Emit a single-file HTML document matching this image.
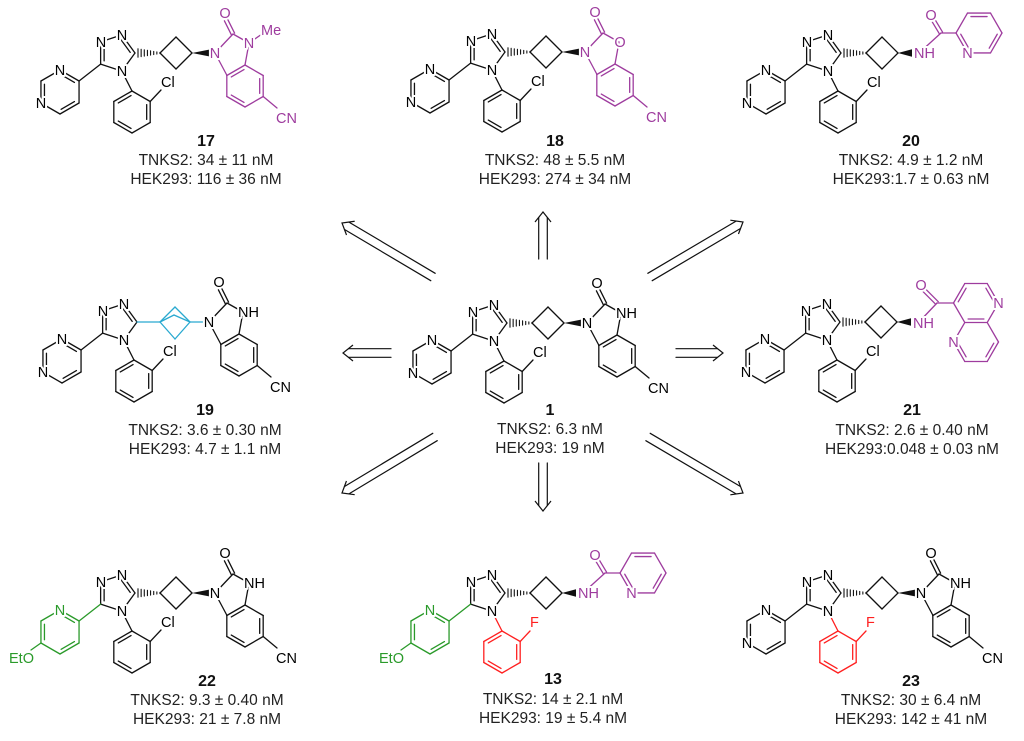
<!DOCTYPE html>
<html><head><meta charset="utf-8">
<style>
html,body{margin:0;padding:0;background:#fff;}
svg{display:block;}
.a{font-family:"Liberation Sans",sans-serif;font-size:14.5px;text-anchor:middle;stroke:#fff;stroke-width:4px;paint-order:stroke;stroke-linejoin:round;fill:#000;}
.s{text-anchor:start;}
.e{text-anchor:end;}
.p{fill:#9e3c9e;}
.g{fill:#2a9a2a;}
.r{fill:#ff2020;}
.t{font-family:"Liberation Sans",sans-serif;font-size:15.5px;text-anchor:middle;fill:#222;}
.n{font-family:"Liberation Sans",sans-serif;font-size:16px;font-weight:bold;text-anchor:middle;fill:#111;}
</style></head>
<body>
<svg id="sv" width="1024" height="741" viewBox="0 0 1024 741" xmlns="http://www.w3.org/2000/svg">
<rect width="1024" height="741" fill="#fff"/>
<g id="arrows"></g>

<!-- 17 -->
<g id="m17" transform="translate(135,53)"><g class="b"></g>
<text class="a" x="-13" y="-13">N</text><text class="a" x="-34" y="-6">N</text><text class="a" x="-13" y="23">N</text>
<text class="a" x="-75" y="22">N</text><text class="a" x="-94" y="55">N</text>
<text class="a s" x="26" y="34">Cl</text>
<g transform="translate(80,0)"><text class="a p" x="0" y="5">N</text><text class="a p" x="10" y="-35">O</text><text class="a p" x="34" y="-5">N</text><text class="a s p" x="46" y="-18">Me</text><text class="a s p" x="61" y="70">CN</text></g>
</g>
<text class="n" x="206" y="146">17</text>
<text class="t" x="206" y="165">TNKS2: 34 ± 11  nM</text>
<text class="t" x="206" y="184">HEK293: 116 ± 36 nM</text>

<!-- 18 -->
<g id="m18" transform="translate(505,52)"><g class="b"></g>
<text class="a" x="-13" y="-13">N</text><text class="a" x="-34" y="-6">N</text><text class="a" x="-13" y="23">N</text>
<text class="a" x="-75" y="22">N</text><text class="a" x="-94" y="55">N</text>
<text class="a s" x="26" y="34">Cl</text>
<g transform="translate(80,0)"><text class="a p" x="0" y="5">N</text><text class="a p" x="10" y="-35">O</text><text class="a p" x="35" y="-5">O</text><text class="a s p" x="61" y="70">CN</text></g>
</g>
<text class="n" x="555" y="146">18</text>
<text class="t" x="555" y="165">TNKS2: 48 ± 5.5 nM</text>
<text class="t" x="555" y="184">HEK293: 274 ± 34 nM</text>

<!-- 20 -->
<g id="m20" transform="translate(841,53)"><g class="b"></g>
<text class="a" x="-13" y="-13">N</text><text class="a" x="-34" y="-6">N</text><text class="a" x="-13" y="23">N</text>
<text class="a" x="-75" y="22">N</text><text class="a" x="-94" y="55">N</text>
<text class="a s" x="26" y="34">Cl</text>
<text class="a s p" x="73" y="5">NH</text><text class="a p" x="90" y="-33">O</text><text class="a p" x="126.5" y="5">N</text>
</g>
<text class="n" x="911" y="146">20</text>
<text class="t" x="911" y="165">TNKS2: 4.9 ± 1.2 nM</text>
<text class="t" x="911" y="184">HEK293:1.7 ± 0.63 nM</text>

<!-- 19 -->
<g id="m19" transform="translate(137,322)"><g class="b"></g>
<text class="a" x="-13" y="-13">N</text><text class="a" x="-34" y="-6">N</text><text class="a" x="-13" y="23">N</text>
<text class="a" x="-75" y="22">N</text><text class="a" x="-94" y="55">N</text>
<text class="a s" x="26" y="34">Cl</text>
<g transform="translate(72,0)"><text class="a" x="0" y="5">N</text><text class="a" x="10" y="-35">O</text><text class="a s" x="29" y="-5">NH</text><text class="a s" x="61" y="70">CN</text></g>
</g>
<text class="n" x="205" y="415">19</text>
<text class="t" x="205" y="435">TNKS2: 3.6 ± 0.30 nM</text>
<text class="t" x="205" y="454">HEK293: 4.7 ± 1.1 nM</text>

<!-- 1 -->
<g id="m1" transform="translate(507,323)"><g class="b"></g>
<text class="a" x="-13" y="-13">N</text><text class="a" x="-34" y="-6">N</text><text class="a" x="-13" y="23">N</text>
<text class="a" x="-75" y="22">N</text><text class="a" x="-94" y="55">N</text>
<text class="a s" x="26" y="34">Cl</text>
<g transform="translate(80,0)"><text class="a" x="0" y="5">N</text><text class="a" x="10" y="-35">O</text><text class="a s" x="29" y="-5">NH</text><text class="a s" x="61" y="70">CN</text></g>
</g>
<text class="n" x="550" y="415">1</text>
<text class="t" x="550" y="434">TNKS2: 6.3 nM</text>
<text class="t" x="550" y="453">HEK293: 19 nM</text>

<!-- 21 -->
<g id="m21" transform="translate(840,322)"><g class="b"></g>
<text class="a" x="-13" y="-13">N</text><text class="a" x="-34" y="-6">N</text><text class="a" x="-13" y="23">N</text>
<text class="a" x="-75" y="22">N</text><text class="a" x="-94" y="55">N</text>
<text class="a s" x="26" y="34">Cl</text>
<text class="a s p" x="73" y="6">NH</text><text class="a p" x="81" y="-32">O</text><text class="a p" x="158.5" y="-14">N</text><text class="a p" x="113.5" y="25">N</text>
</g>
<text class="n" x="912" y="415">21</text>
<text class="t" x="912" y="435">TNKS2: 2.6 ± 0.40 nM</text>
<text class="t" x="912" y="454">HEK293:0.048 ± 0.03 nM</text>

<!-- 22 -->
<g id="m22" transform="translate(135,593)"><g class="b"></g>
<text class="a" x="-13" y="-13">N</text><text class="a" x="-34" y="-6">N</text><text class="a" x="-13" y="23">N</text>
<text class="a g" x="-75" y="22">N</text><text class="a e g" x="-101" y="70">EtO</text>
<text class="a s" x="26" y="34">Cl</text>
<g transform="translate(80,0)"><text class="a" x="0" y="5">N</text><text class="a" x="10" y="-35">O</text><text class="a s" x="29" y="-5">NH</text><text class="a s" x="61" y="70">CN</text></g>
</g>
<text class="n" x="207" y="686">22</text>
<text class="t" x="207" y="705">TNKS2: 9.3 ± 0.40 nM</text>
<text class="t" x="207" y="724">HEK293: 21 ± 7.8 nM</text>

<!-- 13 -->
<g id="m13" transform="translate(505,593)"><g class="b"></g>
<text class="a" x="-13" y="-13">N</text><text class="a" x="-34" y="-6">N</text><text class="a" x="-13" y="23">N</text>
<text class="a g" x="-75" y="22">N</text><text class="a e g" x="-101" y="70">EtO</text>
<text class="a s r" x="25" y="34">F</text>
<text class="a s p" x="73" y="5">NH</text><text class="a p" x="90" y="-33">O</text><text class="a p" x="126.5" y="5">N</text>
</g>
<text class="n" x="553" y="684">13</text>
<text class="t" x="553" y="704">TNKS2: 14 ± 2.1 nM</text>
<text class="t" x="553" y="723">HEK293: 19 ± 5.4 nM</text>

<!-- 23 -->
<g id="m23" transform="translate(841,593)"><g class="b"></g>
<text class="a" x="-13" y="-13">N</text><text class="a" x="-34" y="-6">N</text><text class="a" x="-13" y="23">N</text>
<text class="a" x="-75" y="22">N</text><text class="a" x="-94" y="55">N</text>
<text class="a s r" x="25" y="34">F</text>
<g transform="translate(80,0)"><text class="a" x="0" y="5">N</text><text class="a" x="10" y="-35">O</text><text class="a s" x="29" y="-5">NH</text><text class="a s" x="61" y="70">CN</text></g>
</g>
<text class="n" x="911" y="686">23</text>
<text class="t" x="911" y="705">TNKS2: 30 ± 6.4 nM</text>
<text class="t" x="911" y="724">HEK293: 142 ± 41 nM</text>
</svg>
<script>
(function(){
var NS='http://www.w3.org/2000/svg';
var K='#111',P='#9e3c9e',G='#2a9a2a',R='#ff2020',C='#29a9d0';
var W=1.3;
function ln(g,a,b,c,w){var e=document.createElementNS(NS,'line');e.setAttribute('x1',a[0]);e.setAttribute('y1',a[1]);e.setAttribute('x2',b[0]);e.setAttribute('y2',b[1]);e.setAttribute('stroke',c||K);e.setAttribute('stroke-width',w||W);e.setAttribute('stroke-linecap','round');g.appendChild(e);}
function pg(g,pts,c){var e=document.createElementNS(NS,'polygon');e.setAttribute('points',pts.map(function(p){return p[0]+','+p[1];}).join(' '));e.setAttribute('fill',c||K);g.appendChild(e);}
function pl(g,pts,c,w){var e=document.createElementNS(NS,'polyline');e.setAttribute('points',pts.map(function(p){return p[0]+','+p[1];}).join(' '));e.setAttribute('fill','none');e.setAttribute('stroke',c||K);e.setAttribute('stroke-width',w||W);g.appendChild(e);}
function hv(cx,cy,r,a){a=a*Math.PI/180;return [cx+r*Math.cos(a),cy+r*Math.sin(a)];}
function dbl(g,a,b,ctr,c){ln(g,a,b,c);var dx=b[0]-a[0],dy=b[1]-a[1],L=Math.hypot(dx,dy);var nx=-dy/L,ny=dx/L;var mx=(a[0]+b[0])/2,my=(a[1]+b[1])/2;if(nx*(ctr[0]-mx)+ny*(ctr[1]-my)<0){nx=-nx;ny=-ny;}var o=3.5;ln(g,[a[0]+dx*0.15+nx*o,a[1]+dy*0.15+ny*o],[b[0]-dx*0.15+nx*o,b[1]-dy*0.15+ny*o],c);}
function par(g,a,b,c){var dx=b[0]-a[0],dy=b[1]-a[1],L=Math.hypot(dx,dy);var nx=-dy/L*1.8,ny=dx/L*1.8;ln(g,[a[0]+nx,a[1]+ny],[b[0]+nx,b[1]+ny],c);ln(g,[a[0]-nx,a[1]-ny],[b[0]-nx,b[1]-ny],c);}
function hash(g,n,w,c){var dx=w[0]-n[0],dy=w[1]-n[1],L=Math.hypot(dx,dy);var ux=-dy/L,uy=dx/L;for(var i=0;i<=7;i++){var t=i/7;var x=n[0]+dx*t,y=n[1]+dy*t,h=0.6+3.6*t;ln(g,[x+ux*h,y+uy*h],[x-ux*h,y-uy*h],c,1.1);}}
function wedge(g,n,w,c){var dx=w[0]-n[0],dy=w[1]-n[1],L=Math.hypot(dx,dy);var ux=-dy/L*3.8,uy=dx/L*3.8;pg(g,[n,[w[0]+ux,w[1]+uy],[w[0]-ux,w[1]-uy]],c);}
function off(p,o){return [p[0]+o,p[1]];}

function core(g,o){
  var tc=[-19,0];var T=[0,-72,-144,144,72].map(function(a){return hv(-19,0,19,a);});
  dbl(g,T[0],T[1],tc);ln(g,T[1],T[2]);dbl(g,T[2],T[3],tc);ln(g,T[3],T[4]);ln(g,T[4],T[0]);
  var pc=[-75,39];var Pp=[-30,-90,-150,150,90,30].map(function(a){return hv(pc[0],pc[1],22,a);});
  var pcol=o.eto?G:K;
  ln(g,T[3],Pp[0],pcol);
  for(var i=0;i<6;i++){var a=Pp[i],b=Pp[(i+1)%6];if(i==0||i==2||i==4)dbl(g,a,b,pc,pcol);else ln(g,a,b,pcol);}
  if(o.eto)ln(g,Pp[3],[-104,57],G);
  var ac=[-3,59];var A=[-90,-30,30,90,150,210].map(function(a){return hv(ac[0],ac[1],21,a);});
  var acol=o.F?R:K;
  ln(g,T[4],A[0],acol);
  for(var j=0;j<6;j++){var a2=A[j],b2=A[(j+1)%6];if(j==1||j==3||j==5)dbl(g,a2,b2,ac,acol);else ln(g,a2,b2,acol);}
  ln(g,A[1],o.F?[25,38]:[26,37],acol);
}
function cb(g,end){
  hash(g,[25,0],[3,0]);
  var Lp=[25,0],Tp=[41,-16],Rp=[57,0],Bp=[41,16];
  ln(g,Lp,Tp);ln(g,Tp,Rp);ln(g,Rp,Bp);ln(g,Bp,Lp);
  wedge(g,Rp,[end,0]);
}
function bcp(g){
  ln(g,[0,0],[23,0],C);
  var Lp=[23,0],Tp=[38,-15],Rp=[53,0],Bp=[38,17],Mp=[37,-7];
  ln(g,Lp,Tp,C);ln(g,Tp,Rp,C);ln(g,Rp,Bp,C);ln(g,Bp,Lp,C);ln(g,Lp,Mp,C);ln(g,Mp,Rp,C);
  ln(g,Rp,[69,0],C);
}
function bim(g,ox,c,me){
  function q(p){return off(p,ox);}
  var N1=q([0,0]),C2=q([18,-19]),N3=q([34,-10]),C3a=q([30,12]),C7a=q([12,22.5]);
  ln(g,N1,C2,c);ln(g,C2,N3,c);ln(g,N3,C3a,c);ln(g,C7a,N1,c);
  par(g,C2,q([11,-33]),c);
  var bc=q([30,33]);var B=[-90,-30,30,90,150,210].map(function(a){return hv(bc[0],bc[1],21,a);});
  for(var i=0;i<6;i++){var a=B[i],b=B[(i+1)%6];if(i==1||i==3||i==5)dbl(g,a,b,bc,c);else ln(g,a,b,c);}
  ln(g,B[2],q([62,55]),c);
  if(me)ln(g,N3,q([47,-19]),c);
}
function pico(g,c){
  cb(g,71);
  var Cc=[100,-20];ln(g,[78,0],Cc,c);par(g,Cc,[91,-35],c);ln(g,Cc,[115,-20],c);
  var pc=[138,-20];var V=[180,120,60,0,-60,-120].map(function(a){return hv(pc[0],pc[1],23,a);});
  for(var i=0;i<6;i++){var a=V[i],b=V[(i+1)%6];if(i==0||i==2||i==4)dbl(g,a,b,pc,c);else ln(g,a,b,c);}
}
function naph(g,c){
  cb(g,71);
  var Cc=[97,-19];ln(g,[78,1],Cc,c);par(g,Cc,[84,-32],c);ln(g,Cc,[113.5,-19],c);
  var ca=[136,-19],cbb=[136,20];
  var A=[180,240,300,0,60,120].map(function(a){return hv(ca[0],ca[1],22.5,a);});
  var B=[240,300,0,60,120,180].map(function(a){return hv(cbb[0],cbb[1],22.5,a);});
  for(var i=0;i<6;i++){var a=A[i],b=A[(i+1)%6];if(i==0||i==2||i==4)dbl(g,a,b,ca,c);else ln(g,a,b,c);}
  for(var j=1;j<6;j++){var a2=B[j],b2=B[(j+1)%6];if(j==2||j==4)dbl(g,a2,b2,cbb,c);else ln(g,a2,b2,c);}
}
function G_(id){return document.querySelector('#'+id+' .b');}
var g;
g=G_('m17');core(g,{});cb(g,76);bim(g,80,P,true);
g=G_('m18');core(g,{});cb(g,76);bim(g,80,P,false);
g=G_('m20');core(g,{});pico(g,P);
g=G_('m19');core(g,{});bcp(g);bim(g,72,K,false);
g=G_('m1');core(g,{});cb(g,76);bim(g,80,K,false);
g=G_('m21');core(g,{});naph(g,P);
g=G_('m22');core(g,{eto:true});cb(g,76);bim(g,80,K,false);
g=G_('m13');core(g,{eto:true,F:true});pico(g,P);
g=G_('m23');core(g,{F:true});cb(g,76);bim(g,80,K,false);

var ag=document.getElementById('arrows');
function arrow(x1,y1,x2,y2){
  var dx=x2-x1,dy=y2-y1,L=Math.hypot(dx,dy),ux=dx/L,uy=dy/L,nx=-uy,ny=ux,o=4.3;
  var ex=x2-ux*5.5,ey=y2-uy*5.5;
  ln(ag,[x1+nx*o,y1+ny*o],[ex+nx*o,ey+ny*o],K,1.2);
  ln(ag,[x1-nx*o,y1-ny*o],[ex-nx*o,ey-ny*o],K,1.2);
  pl(ag,[[x2-ux*10+nx*8,y2-uy*10+ny*8],[x2,y2],[x2-ux*10-nx*8,y2-uy*10-ny*8]],K,1.2);
}
arrow(433,277,342,223);
arrow(543,259,543,212);
arrow(650,277,743,222);
arrow(391,353,343,353);
arrow(676,353,723,353);
arrow(435,437,342,493);
arrow(543,463,543,511);
arrow(648,437,743,493);
})();
</script>
</body></html>
